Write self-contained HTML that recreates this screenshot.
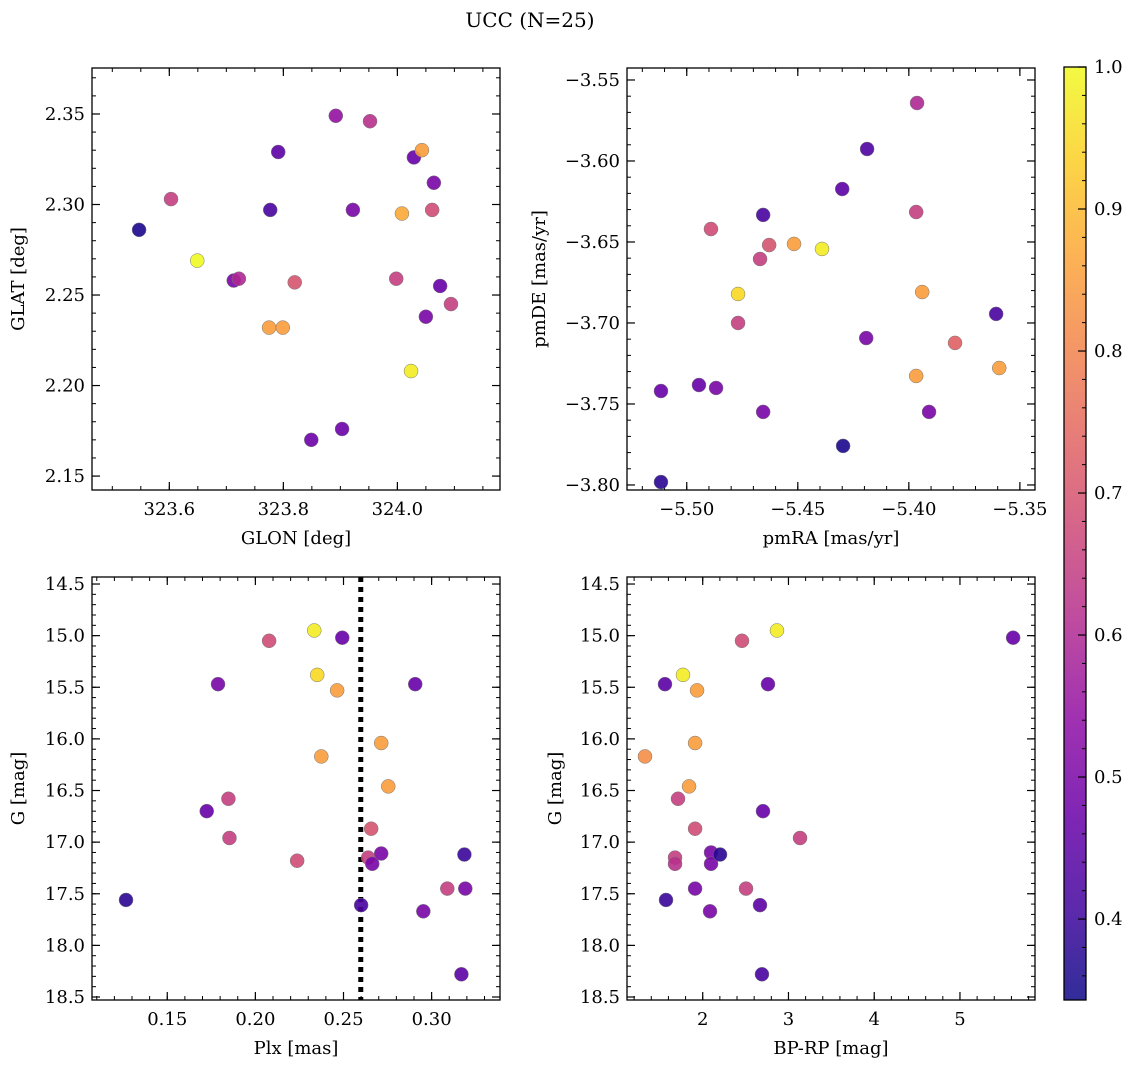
<!DOCTYPE html>
<html><head><meta charset="utf-8">
<style>
body{margin:0;background:#fff;}
svg{display:block;font-family:"DejaVu Serif","Liberation Serif",serif;}
</style></head>
<body>
<svg id="fig" width="1136" height="1067" viewBox="0 0 1136 1067">
<text x="530" y="27" font-size="20" text-anchor="middle">UCC (N=25)</text>
</svg>
<script>
// ---- data ----
const p1X=[323.547,323.603,323.649,323.713,323.722,323.777,323.791,323.775,323.799,323.820,323.892,323.952,323.922,323.849,323.903,323.998,324.008,324.029,324.043,324.064,324.061,324.024,324.075,324.050,324.094];
const p1Y=[2.286,2.303,2.269,2.258,2.259,2.297,2.329,2.232,2.232,2.257,2.349,2.346,2.297,2.170,2.176,2.259,2.295,2.326,2.330,2.312,2.297,2.208,2.255,2.238,2.245];
const p1C=[0.36,0.65,1.0,0.5,0.6,0.42,0.45,0.85,0.85,0.7,0.55,0.62,0.5,0.48,0.48,0.65,0.87,0.47,0.85,0.5,0.68,0.98,0.47,0.5,0.65];

const p2X=[-5.3963,-5.4188,-5.4300,-5.4656,-5.3967,-5.4891,-5.4629,-5.4517,-5.4670,-5.4391,-5.4769,-5.3940,-5.4769,-5.3607,-5.4192,-5.3792,-5.3967,-5.3593,-5.5116,-5.4945,-5.4868,-5.4656,-5.3909,-5.4296,-5.5116];
const p2Y=[-3.5642,-3.5926,-3.6173,-3.6333,-3.6315,-3.6420,-3.6519,-3.6512,-3.6605,-3.6543,-3.6821,-3.6809,-3.7000,-3.6944,-3.7093,-3.7123,-3.7327,-3.7278,-3.7420,-3.7383,-3.7401,-3.7549,-3.7549,-3.7759,-3.7982];
const p2C=[0.6,0.43,0.45,0.42,0.65,0.68,0.7,0.85,0.65,0.98,0.95,0.85,0.65,0.42,0.5,0.73,0.85,0.85,0.47,0.47,0.5,0.5,0.5,0.36,0.38];

const p3X=[0.1266,0.1724,0.1788,0.1847,0.1853,0.2078,0.2237,0.2334,0.2351,0.2464,0.2493,0.2374,0.2600,0.2657,0.2640,0.2663,0.2714,0.2714,0.2754,0.2907,0.2953,0.3089,0.3191,0.3186,0.3169];
const p3Y=[17.56,16.70,15.47,16.58,16.96,15.05,17.18,14.95,15.38,15.53,15.02,16.17,17.61,16.87,17.15,17.21,17.11,16.04,16.46,15.47,17.67,17.45,17.45,17.12,18.28];
const p3C=[0.38,0.47,0.5,0.65,0.65,0.68,0.68,0.98,0.95,0.85,0.47,0.85,0.42,0.7,0.65,0.5,0.5,0.85,0.85,0.47,0.5,0.65,0.5,0.4,0.45];

const p4X=[1.327,1.560,1.770,1.934,1.911,1.841,1.712,1.677,1.677,1.911,1.572,1.911,2.097,2.097,2.202,2.085,2.458,2.866,2.761,2.703,2.668,2.505,3.135,2.691,5.620];
const p4Y=[16.17,15.47,15.38,15.53,16.04,16.46,16.58,17.15,17.21,16.87,17.56,17.45,17.10,17.21,17.12,17.67,15.05,14.95,15.47,16.70,17.61,17.45,16.96,18.28,15.02];
const p4C=[0.82,0.45,0.98,0.85,0.85,0.85,0.65,0.65,0.62,0.68,0.4,0.5,0.5,0.5,0.38,0.5,0.68,0.98,0.47,0.47,0.45,0.65,0.65,0.42,0.47];

const p1XTicks=[323.6,323.8,324.0], p1YTicks=[2.15,2.20,2.25,2.30,2.35];
const p2XTicks=[-5.50,-5.45,-5.40,-5.35], p2YTicks=[-3.80,-3.75,-3.70,-3.65,-3.60,-3.55];
const p3XTicks=[0.15,0.20,0.25,0.30], p3YTicks=[14.5,15.0,15.5,16.0,16.5,17.0,17.5,18.0,18.5];
const p4XTicks=[2,3,4,5], p4YTicks=[14.5,15.0,15.5,16.0,16.5,17.0,17.5,18.0,18.5];
const cbTicks=[0.4,0.5,0.6,0.7,0.8,0.9,1.0];
const plxLine=[0.2598];

const NS="http://www.w3.org/2000/svg";
const svg=document.getElementById('fig');
const VMIN=0.343, VMAX=1.0;
const stops=["#0d0887","#41049d","#6a00a8","#8f0da4","#b12a90","#cc4778","#e16462","#f2844b","#fca636","#fcce25","#f0f921"];
function hex(h){return [1,3,5].map(i=>parseInt(h.substr(i,2),16));}
function plasma(t){t=Math.max(0,Math.min(1,t));const f=t*10,i=Math.min(9,Math.floor(f)),r=f-i;const a=hex(stops[i]),b=hex(stops[i+1]);return 'rgb('+a.map((v,k)=>Math.round(v+(b[k]-v)*r)).join(',')+')';}
function cmap(v){return plasma((v-VMIN)/(VMAX-VMIN));}
function mk(tag,attrs,parent){const e=document.createElementNS(NS,tag);for(const k in attrs)e.setAttribute(k,attrs[k]);(parent||svg).appendChild(e);return e;}
function fmt(v,d){const s=Math.abs(v).toFixed(d);return (v<0?'\u2212':'')+s;}
const FS=18;

function panel(o){
  const g=mk('g',{});
  
  
  const sx=v=>o.L+(v-o.x0)/(o.x1-o.x0)*(o.R-o.L);
  const sy=v=>o.T+(v-o.y0)/(o.y1-o.y0)*(o.B-o.T);
  const minor=(a0,a1,step,fn)=>{const s=Math.ceil(Math.min(a0,a1)/step-1e-6);for(let k=s;k*step<=Math.max(a0,a1)+1e-9;k++)fn(k*step);};
  minor(o.x0,o.x1,o.xm,v=>{const x=sx(v);mk('line',{x1:x,x2:x,y1:o.B,y2:o.B-4,stroke:'#000','stroke-width':1},g);mk('line',{x1:x,x2:x,y1:o.T,y2:o.T+4,stroke:'#000','stroke-width':1},g);});
  minor(o.y0,o.y1,o.ym,v=>{const y=sy(v);mk('line',{x1:o.L,x2:o.L+4,y1:y,y2:y,stroke:'#000','stroke-width':1},g);mk('line',{x1:o.R,x2:o.R-4,y1:y,y2:y,stroke:'#000','stroke-width':1},g);});
  o.xt.forEach(v=>{const x=sx(v);mk('line',{x1:x,x2:x,y1:o.B,y2:o.B-8,stroke:'#000','stroke-width':1.2},g);mk('line',{x1:x,x2:x,y1:o.T,y2:o.T+8,stroke:'#000','stroke-width':1.2},g);
    const t=mk('text',{x:x,y:o.B+25,'font-size':FS,'text-anchor':'middle'},g);t.textContent=fmt(v,o.xd);
    
    });
  o.yt.forEach(v=>{const y=sy(v);mk('line',{x1:o.L,x2:o.L+8,y1:y,y2:y,stroke:'#000','stroke-width':1.2},g);mk('line',{x1:o.R,x2:o.R-8,y1:y,y2:y,stroke:'#000','stroke-width':1.2},g);
    const t=mk('text',{x:o.L-7,y:y+6,'font-size':FS,'text-anchor':'end'},g);t.textContent=fmt(v,o.yd);
    
    });
  if(o.vline){o.vline.forEach(v=>{const l=mk('line',{x1:sx(v),x2:sx(v),y1:o.T,y2:o.B,stroke:'#000','stroke-width':5,'stroke-dasharray':'5,5'},g);
    
    });}
  o.X.forEach((v,i)=>{const c=mk('circle',{cx:sx(v),cy:sy(o.Y[i]),r:7,fill:cmap(o.C[i]),'fill-opacity':0.9,stroke:'#777','stroke-width':0.5},g);
    
    });
  const box=mk('rect',{x:o.L,y:o.T,width:o.R-o.L,height:o.B-o.T,fill:'none',stroke:'#000','stroke-width':1.3},g);
  
  
  const xl=mk('text',{x:(o.L+o.R)/2,y:o.B+54,'font-size':FS,'text-anchor':'middle'},g);xl.textContent=o.xl;
  
  
  const yx=o.ylx, yy=(o.T+o.B)/2;
  const yl=mk('text',{x:yx,y:yy,'font-size':FS,'text-anchor':'middle',transform:'rotate(-90 '+yx+' '+yy+')'},g);yl.textContent=o.yl;
  
  
}

panel({name:'glon-glat-panel',L:92,R:500,T:68,B:490,x0:323.4644,x1:324.180,y0:2.3754,y1:2.1423,xm:0.05,ym:0.01,xt:p1XTicks,yt:p1YTicks,xd:1,yd:2,X:p1X,Y:p1Y,C:p1C,xl:'GLON [deg]',yl:'GLAT [deg]',ylx:24});
panel({name:'pm-panel',L:627,R:1035,T:68,B:490,x0:-5.5269,x1:-5.3432,y0:-3.5426,y1:-3.8031,xm:0.01,ym:0.01,xt:p2XTicks,yt:p2YTicks,xd:2,yd:2,X:p2X,Y:p2Y,C:p2C,xl:'pmRA [mas/yr]',yl:'pmDE [mas/yr]',ylx:545});
panel({name:'plx-g-panel',L:92,R:500,T:577,B:1000,x0:0.1073,x1:0.3388,y0:14.432,y1:18.529,xm:0.01,ym:0.1,xt:p3XTicks,yt:p3YTicks,xd:2,yd:1,X:p3X,Y:p3Y,C:p3C,xl:'Plx [mas]',yl:'G [mag]',ylx:24,vline:plxLine});
panel({name:'cmd-panel',L:627,R:1035,T:577,B:1000,x0:1.117,x1:5.875,y0:14.432,y1:18.529,xm:0.2,ym:0.1,xt:p4XTicks,yt:p4YTicks,xd:0,yd:1,X:p4X,Y:p4Y,C:p4C,xl:'BP-RP [mag]',yl:'G [mag]',ylx:561});

// colorbar
(function(){
  const L=1064,R=1086,T=67,B=1000;
  const g=mk('g',{});
  
  
  const defs=mk('defs',{},g);
  const lg=mk('linearGradient',{id:'cbg',x1:0,y1:1,x2:0,y2:0},defs);
  for(let i=0;i<=20;i++){mk('stop',{offset:(i/20),'stop-color':plasma(i/20)},lg);}
  mk('rect',{x:L,y:T,width:R-L,height:B-T,fill:'url(#cbg)','fill-opacity':0.85},g);
  const sy=v=>B-(v-VMIN)/(VMAX-VMIN)*(B-T);
  for(let k=18;k<=50;k++){const v=k*0.02;if(v<VMIN)continue;const y=sy(v);mk('line',{x1:R,x2:R-4,y1:y,y2:y,stroke:'#000','stroke-width':1},g);}
  cbTicks.forEach(v=>{const y=sy(v);mk('line',{x1:R,x2:R-8,y1:y,y2:y,stroke:'#000','stroke-width':1.2},g);
    const t=mk('text',{x:R+8,y:y+6,'font-size':FS},g);t.textContent=v.toFixed(1);
    
    });
  mk('rect',{x:L,y:T,width:R-L,height:B-T,fill:'none',stroke:'#000','stroke-width':1.3},g);
})();
</script>
</body></html>
